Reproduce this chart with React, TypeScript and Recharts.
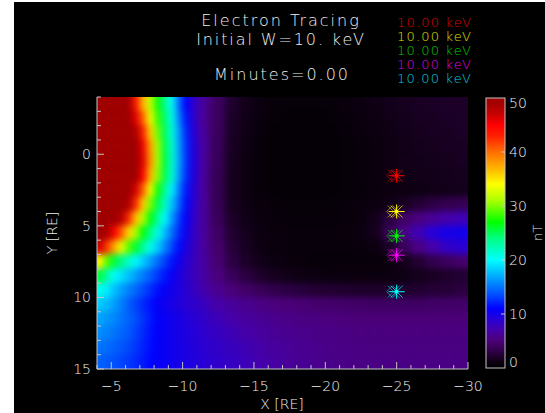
import React from 'react';
import { ComposedChart, XAxis, YAxis, ReferenceArea, Scatter } from 'recharts';

// cell edges of the field grid (RE)
const xEdges = [-4, -4.5, -5, -5.5, -6, -6.5, -7, -7.5, -8, -8.5, -9, -9.5, -10, -10.5, -11, -11.5, -12,
  -13, -14, -15, -16, -17, -18, -19, -20, -21, -22, -23, -24, -25, -26, -27, -28, -29, -30];
const yEdges = [-4, -3, -2, -1, 0, 1, 2, 3, 4, 5, 6, 7, 8, 9, 10, 11, 12, 13, 14, 15];

// |B| in nT, one row per yEdges cell, one value per xEdges cell
const fieldRows = [
  [50, 50, 50, 50, 49, 43.5, 37, 32, 27.4, 23.6, 20.3, 14.8, 11, 8.7, 6.9, 5.8, 4.1, 2.2, 1.4, 0.9, 0.6, 0.5, 0.5, 0.5, 0.6, 0.8, 1.0, 1.2, 1.4, 1.6, 1.8, 1.9, 2.0, 2.0],
  [50, 50, 50, 50, 50, 46, 40.5, 33.5, 28.5, 24.7, 20.7, 15.6, 11.7, 8.9, 6.9, 5.6, 4.0, 2.0, 1.3, 0.8, 0.5, 0.4, 0.4, 0.4, 0.5, 0.7, 0.9, 1.1, 1.3, 1.5, 1.7, 1.8, 1.9, 2.0],
  [50, 50, 50, 50, 50, 48.5, 43, 36, 29.8, 25, 21.2, 16.5, 12.3, 9.3, 7.1, 5.7, 3.9, 1.9, 1.2, 0.7, 0.4, 0.3, 0.3, 0.3, 0.4, 0.6, 0.8, 1.0, 1.2, 1.4, 1.6, 1.7, 1.8, 1.9],
  [50, 50, 50, 50, 50, 50, 45.5, 38, 31, 25.5, 21.6, 16.8, 12.6, 9.5, 7.2, 5.8, 3.8, 1.8, 1.1, 0.6, 0.3, 0.3, 0.3, 0.3, 0.4, 0.5, 0.7, 0.9, 1.1, 1.3, 1.5, 1.6, 1.7, 1.8],
  [50, 50, 50, 50, 50, 50, 46, 38.5, 31.2, 25.6, 21.7, 16.9, 12.7, 9.6, 7.3, 5.8, 3.7, 1.7, 1.0, 0.6, 0.3, 0.3, 0.3, 0.3, 0.4, 0.5, 0.7, 0.9, 1.1, 1.3, 1.4, 1.5, 1.6, 1.7],
  [50, 50, 50, 50, 50, 50, 45, 37, 30.5, 25.3, 21.4, 16.5, 12.5, 9.5, 7.2, 5.7, 3.6, 1.6, 1.0, 0.6, 0.3, 0.3, 0.3, 0.3, 0.4, 0.5, 0.7, 0.9, 1.1, 1.2, 1.3, 1.4, 1.5, 1.6],
  [50, 50, 50, 50, 50, 46.5, 40.5, 33.5, 27.5, 23.5, 19.6, 15.3, 11.8, 9.2, 7.1, 5.7, 3.5, 1.6, 1.0, 0.6, 0.4, 0.3, 0.3, 0.3, 0.4, 0.5, 0.6, 0.8, 1.0, 1.1, 1.2, 1.3, 1.4, 1.5],
  [50, 50, 50, 50, 48.5, 42.5, 36, 29.8, 25.5, 21.8, 18.1, 14.4, 11.4, 9, 7.1, 5.8, 3.6, 1.7, 1.1, 0.8, 0.6, 0.5, 0.5, 0.5, 0.6, 0.7, 0.8, 1.0, 1.3, 1.8, 2.4, 3.0, 3.4, 3.6],
  [50, 50, 50, 48, 42.5, 36.4, 31.5, 26.7, 23.4, 20, 16.5, 13.2, 10.7, 8.7, 7, 5.8, 3.8, 2.0, 1.3, 0.9, 0.7, 0.6, 0.6, 0.6, 0.6, 0.7, 0.9, 1.5, 2.8, 4.2, 5.3, 6.2, 7.0, 7.5],
  [50, 48.5, 45, 40.5, 35.5, 31, 26.7, 23.8, 20.9, 17.9, 14.9, 12.4, 10.2, 8.5, 7, 5.9, 4.2, 2.3, 1.5, 1.0, 0.8, 0.7, 0.7, 0.7, 0.7, 0.8, 1.0, 1.6, 3.5, 5.5, 7.5, 9.0, 9.8, 10.0],
  [46.5, 41.8, 37.3, 33, 29, 25.8, 23.2, 20.7, 18.3, 15.8, 13.4, 11.4, 9.6, 8.2, 7, 6, 4.5, 2.6, 1.7, 1.1, 0.8, 0.7, 0.7, 0.7, 0.7, 0.7, 0.8, 1.0, 2.0, 3.8, 5.5, 7.0, 8.2, 8.8],
  [34.5, 28.7, 25.6, 23.6, 21.7, 19.8, 18.2, 16.5, 14.8, 13.2, 11.7, 10.2, 9.0, 8.0, 7.0, 6.2, 4.8, 3.0, 2.0, 1.4, 1.0, 0.8, 0.7, 0.6, 0.6, 0.6, 0.6, 0.7, 0.9, 1.5, 2.4, 3.3, 4.0, 4.5],
  [25.5, 22.5, 20.1, 18.9, 17.8, 16.5, 15.3, 14.1, 12.9, 11.8, 10.6, 9.6, 8.7, 7.9, 7.1, 6.4, 5.2, 3.8, 2.8, 2.1, 1.6, 1.3, 1.1, 1.0, 0.9, 0.9, 0.9, 0.9, 1.0, 1.2, 1.5, 1.8, 2.1, 2.3],
  [20.5, 19.4, 17.8, 16.5, 15.5, 14.5, 13.5, 12.5, 11.5, 10.7, 10.1, 9.5, 8.9, 8.2, 7.4, 6.8, 6.0, 5.0, 4.3, 3.7, 3.2, 2.9, 2.6, 2.4, 2.3, 2.2, 2.1, 2.1, 2.1, 2.2, 2.3, 2.5, 2.6, 2.8],
  [18.2, 17.5, 16.6, 15.4, 14.2, 13.2, 12.4, 11.5, 10.8, 10.3, 9.8, 9.4, 9.0, 8.6, 8.2, 7.7, 7.0, 6.4, 5.9, 5.5, 5.2, 5.0, 4.8, 4.6, 4.5, 4.4, 4.3, 4.2, 4.2, 4.2, 4.2, 4.3, 4.3, 4.4],
  [16.8, 16.3, 15.7, 15.0, 14.3, 13.6, 12.7, 11.8, 10.9, 10.5, 10.2, 9.8, 9.4, 9.0, 8.6, 8.2, 7.6, 7.0, 6.5, 6.1, 5.8, 5.6, 5.4, 5.3, 5.2, 5.1, 5.0, 5.0, 5.0, 5.0, 5.0, 5.0, 5.0, 5.0],
  [15.9, 15.5, 15.0, 14.5, 14.0, 13.2, 12.4, 11.5, 10.9, 10.5, 10.2, 9.8, 9.5, 9.2, 8.8, 8.5, 8.0, 7.5, 7.0, 6.6, 6.2, 6.0, 5.8, 5.6, 5.5, 5.4, 5.3, 5.3, 5.3, 5.3, 5.3, 5.3, 5.3, 5.3],
  [15.0, 14.7, 14.3, 13.9, 13.4, 12.8, 12.1, 11.4, 10.9, 10.5, 10.2, 9.9, 9.6, 9.3, 9.0, 8.7, 8.3, 7.9, 7.4, 6.9, 6.5, 6.2, 6.0, 5.8, 5.6, 5.5, 5.4, 5.4, 5.4, 5.4, 5.4, 5.4, 5.4, 5.4],
  [14.3, 14.0, 13.7, 13.3, 12.9, 12.4, 11.8, 11.2, 10.8, 10.5, 10.2, 9.9, 9.7, 9.4, 9.1, 8.8, 8.5, 8.1, 7.6, 7.1, 6.7, 6.3, 6.1, 5.9, 5.7, 5.6, 5.5, 5.5, 5.5, 5.5, 5.5, 5.5, 5.5, 5.5],
];

// electron positions
const markerX = [-25, -25, -25, -25, -25];
const markerY = [1.5, 4.0, 5.7, 7.05, 9.6];
const markerColors = ['#ff0000', '#ffff00', '#00ff00', '#ff00ff', '#00ffff'];
const energyLabels = ['10.00 keV', '10.00 keV', '10.00 keV', '10.00 keV', '10.00 keV'];
const labelColors = ['#e00000', '#e0e000', '#00d000', '#e000e0', '#00d0e0'];

const xMinorTicks = [-4, -5, -6, -7, -8, -9, -10, -11, -12, -13, -14, -15, -16, -17, -18, -19, -20,
  -21, -22, -23, -24, -25, -26, -27, -28, -29, -30];
const yMinorTicks = [-4, -3, -2, -1, 0, 1, 2, 3, 4, 5, 6, 7, 8, 9, 10, 11, 12, 13, 14, 15];
const cbTicks = [0, 10, 20, 30, 40, 50];

const FONT = 'DejaVu Sans';
const FW = 200;
const TXT = '#eeeeee';
const TICK = '#c4c4c4';

// colour table, value (nT) -> rgb
const cmap: [number, number[]][] = [
  [0, [0, 0, 0]],
  [1, [12, 0, 16]],
  [2, [28, 0, 40]],
  [3, [45, 0, 70]],
  [5, [75, 0, 120]],
  [7, [70, 0, 170]],
  [9, [40, 0, 215]],
  [11, [0, 0, 255]],
  [14, [0, 90, 255]],
  [17, [0, 170, 255]],
  [20, [0, 255, 255]],
  [24, [0, 255, 130]],
  [27, [0, 255, 0]],
  [31, [170, 255, 0]],
  [34, [255, 255, 0]],
  [37, [255, 180, 0]],
  [40, [255, 110, 0]],
  [43, [255, 30, 0]],
  [45, [255, 0, 0]],
  [47, [200, 0, 0]],
  [49, [165, 0, 0]],
  [50, [160, 0, 0]],
];

function colorOf(v: number) {
  const t = Math.max(0, Math.min(50, v));
  for (let i = 1; i < cmap.length; i++) {
    const [v1, c1] = cmap[i];
    const [v0, c0] = cmap[i - 1];
    if (t <= v1) {
      const f = (t - v0) / (v1 - v0);
      const c = c0.map((a, k) => Math.round(a + (c1[k] - a) * f));
      return `rgb(${c[0]},${c[1]},${c[2]})`;
    }
  }
  return 'rgb(160,0,0)';
}

const fmt = (v: number) => String(v).replace('-', '\u2212');

const X0 = xEdges[0], X1 = xEdges[xEdges.length - 1];
const Y0 = yEdges[0], Y1 = yEdges[yEdges.length - 1];

// edge cells run a little past the frame so the smoothing does not darken the border
const cells = fieldRows.flatMap((row, i) =>
  row.map((v, j) => {
    const x1 = xEdges[j], x2 = xEdges[j + 1], y1 = yEdges[i], y2 = yEdges[i + 1];
    return {
      x1: x1 === X0 ? X0 + 1 : x1,
      x2: x2 === X1 ? X1 - 1 : x2,
      y1: y1 === Y0 ? Y0 - 1 : y1,
      y2: y2 === Y1 ? Y1 + 1 : y2,
      v,
    };
  })
);

const markers = markerX.map((x, i) => ({ x, y: markerY[i], color: markerColors[i] }));

const BottomTick = (p: any) => {
  const v = p.payload.value;
  const major = v % 5 === 0;
  return (
    <g>
      <line x1={p.x} y1={p.y} x2={p.x} y2={p.y - (major ? 7 : 4)} stroke={TICK} />
      {major && (
        <text x={p.x} y={p.y + 22} textAnchor="middle" fill={TXT} fontSize={14} fontFamily={FONT}
          fontWeight={FW}>{fmt(v)}</text>
      )}
    </g>
  );
};

const LeftTick = (p: any) => {
  const v = p.payload.value;
  const major = v % 5 === 0;
  return (
    <g>
      <line x1={p.x} y1={p.y} x2={p.x + (major ? 7 : 4)} y2={p.y} stroke={TICK} />
      {major && (
        <text x={p.x - 6} y={p.y + 5} textAnchor="end" fill={TXT} fontSize={14} fontFamily={FONT}
          fontWeight={FW}>{fmt(v)}</text>
      )}
    </g>
  );
};

const TopTick = (p: any) => {
  const major = p.payload.value % 5 === 0;
  return <line x1={p.x} y1={p.y} x2={p.x} y2={p.y + (major ? 7 : 4)} stroke={TICK} />;
};

const RightTick = (p: any) => {
  const major = p.payload.value % 5 === 0;
  return <line x1={p.x} y1={p.y} x2={p.x - (major ? 7 : 4)} y2={p.y} stroke={TICK} />;
};

const Star = (p: any) => {
  const { cx, cy, payload } = p;
  const c = payload.color;
  return (
    <g stroke={c} strokeWidth={1} fill="none">
      <g opacity={0.5}>
        <path d={`M${cx - 10},${cy} L${cx - 4},${cy - 6} L${cx + 2},${cy} L${cx - 4},${cy + 6} Z`} />
        <path d={`M${cx - 9},${cy - 6} L${cx + 3},${cy + 6} M${cx - 9},${cy + 6} L${cx + 3},${cy - 6}`} />
      </g>
      <path d={`M${cx - 8},${cy} L${cx + 8},${cy} M${cx},${cy - 7} L${cx},${cy + 7}`} />
      <path d={`M${cx - 6},${cy - 6} L${cx + 6},${cy + 6} M${cx - 6},${cy + 6} L${cx + 6},${cy - 6}`} opacity={0.75} />
      <rect x={cx - 1.5} y={cy - 1.5} width={3} height={3} fill={c} stroke="none" />
    </g>
  );
};

// frame of the plot inside the black panel
const W = 531, H = 411;
const M = { top: 95, right: 77, bottom: 14, left: 33 };
const PL = 83, PT = 95, PW = 371, PH = 272;

// colour bar geometry (panel coords)
const CB_X = 472, CB_W = 19, CB_TOP = 96, CB_BOT = 366;

function FieldLayer() {
  return (
    <div style={{ position: 'absolute', left: PL, top: PT, width: PW, height: PH, overflow: 'hidden' }}>
      <div style={{ position: 'absolute', left: -PL, top: -PT, filter: 'blur(3px)' }}>
        <ComposedChart width={W} height={H} margin={{ top: PT, right: W - PL - PW, bottom: H - PT - PH, left: PL }}>
          <XAxis type="number" dataKey="x" domain={[X1, X0]} reversed hide allowDataOverflow />
          <YAxis type="number" dataKey="y" domain={[Y0, Y1]} reversed hide allowDataOverflow />
          {cells.map((c, k) => (
            <ReferenceArea key={k} x1={c.x1} x2={c.x2} y1={c.y1} y2={c.y2} ifOverflow="visible"
              fill={colorOf(c.v)} fillOpacity={1} stroke={colorOf(c.v)} strokeWidth={0.6} />
          ))}
        </ComposedChart>
      </div>
    </div>
  );
}

export default function App() {
  const cbY = (v: number) => CB_BOT - (v / 50) * (CB_BOT - CB_TOP);
  return (
    <div style={{ padding: '2px 0 0 14px', background: '#fff' }}>
      <style>{'body{margin:0;background:#fff}'}</style>
      <div style={{ position: 'relative', width: W, height: H, background: '#000' }}>
        <FieldLayer />
        <div style={{ position: 'absolute', left: 0, top: 0 }}>
          <ComposedChart width={W} height={H} margin={M}>
            <XAxis type="number" dataKey="x" domain={[X1, X0]} reversed ticks={xMinorTicks} interval={0}
              height={30} tickSize={0} tickMargin={0} tickLine={false} tick={<BottomTick />}
              axisLine={{ stroke: TICK }} allowDataOverflow />
            <XAxis xAxisId="top" orientation="top" type="number" domain={[X1, X0]} reversed ticks={xMinorTicks}
              interval={0} height={0} tickSize={0} tickMargin={0} tickLine={false} tick={<TopTick />}
              axisLine={{ stroke: TICK }} allowDataOverflow />
            <YAxis type="number" dataKey="y" domain={[Y0, Y1]} reversed ticks={yMinorTicks} interval={0}
              width={50} tickSize={0} tickMargin={0} tickLine={false} tick={<LeftTick />}
              axisLine={{ stroke: TICK }} allowDataOverflow />
            <YAxis yAxisId="right" orientation="right" type="number" domain={[Y0, Y1]} reversed ticks={yMinorTicks}
              interval={0} width={0} tickSize={0} tickMargin={0} tickLine={false} tick={<RightTick />}
              axisLine={{ stroke: TICK }} allowDataOverflow />
            <Scatter data={markers} dataKey="y" isAnimationActive={false} shape={(p: any) => <Star {...p} />} />
          </ComposedChart>
        </div>
        <svg width={W} height={H} style={{ position: 'absolute', left: 0, top: 0, pointerEvents: 'none' }}
          fontFamily={FONT} fontWeight={FW}>
          <defs>
            <linearGradient id="cbGrad" x1="0" y1="1" x2="0" y2="0">
              {cmap.map(([v, c]) => (
                <stop key={v} offset={v / 50} stopColor={`rgb(${c[0]},${c[1]},${c[2]})`} />
              ))}
            </linearGradient>
          </defs>
          <text x={267} y={24} textAnchor="middle" fill={TXT} fontSize={16} letterSpacing={2}>Electron Tracing</text>
          <text x={267} y={43} textAnchor="middle" fill={TXT} fontSize={16} letterSpacing={1.9}>Initial W=10. keV</text>
          <text x={268} y={78} textAnchor="middle" fill={TXT} fontSize={16} letterSpacing={2}>Minutes=0.00</text>
          {energyLabels.map((t, i) => (
            <text key={i} x={383} y={25 + i * 14} fill={labelColors[i]} fontSize={13} letterSpacing={1.2}>{t}</text>
          ))}
          <text x={268} y={407} textAnchor="middle" fill={TXT} fontSize={14}>X [RE]</text>
          <text x={39} y={231} textAnchor="middle" fill={TXT} fontSize={14} transform="rotate(-90 39 231)"
            dominantBaseline="middle">Y [RE]</text>
          <rect x={CB_X} y={CB_TOP} width={CB_W} height={CB_BOT - CB_TOP} fill="url(#cbGrad)" stroke={TICK} />
          {cbTicks.map((v) => (
            <g key={v}>
              {v > 0 && v < 50 && <line x1={CB_X + CB_W} y1={cbY(v)} x2={CB_X + CB_W - 4} y2={cbY(v)} stroke={TICK} />}
              <text x={CB_X + CB_W + 4} y={Math.min(CB_BOT - 1, Math.max(CB_TOP + 10, cbY(v) + 5))}
                fill={TXT} fontSize={14}>{v}</text>
            </g>
          ))}
          <text x={524} y={231} textAnchor="middle" fill={TXT} fontSize={13} transform="rotate(-90 524 231)"
            dominantBaseline="middle">nT</text>
        </svg>
      </div>
    </div>
  );
}
